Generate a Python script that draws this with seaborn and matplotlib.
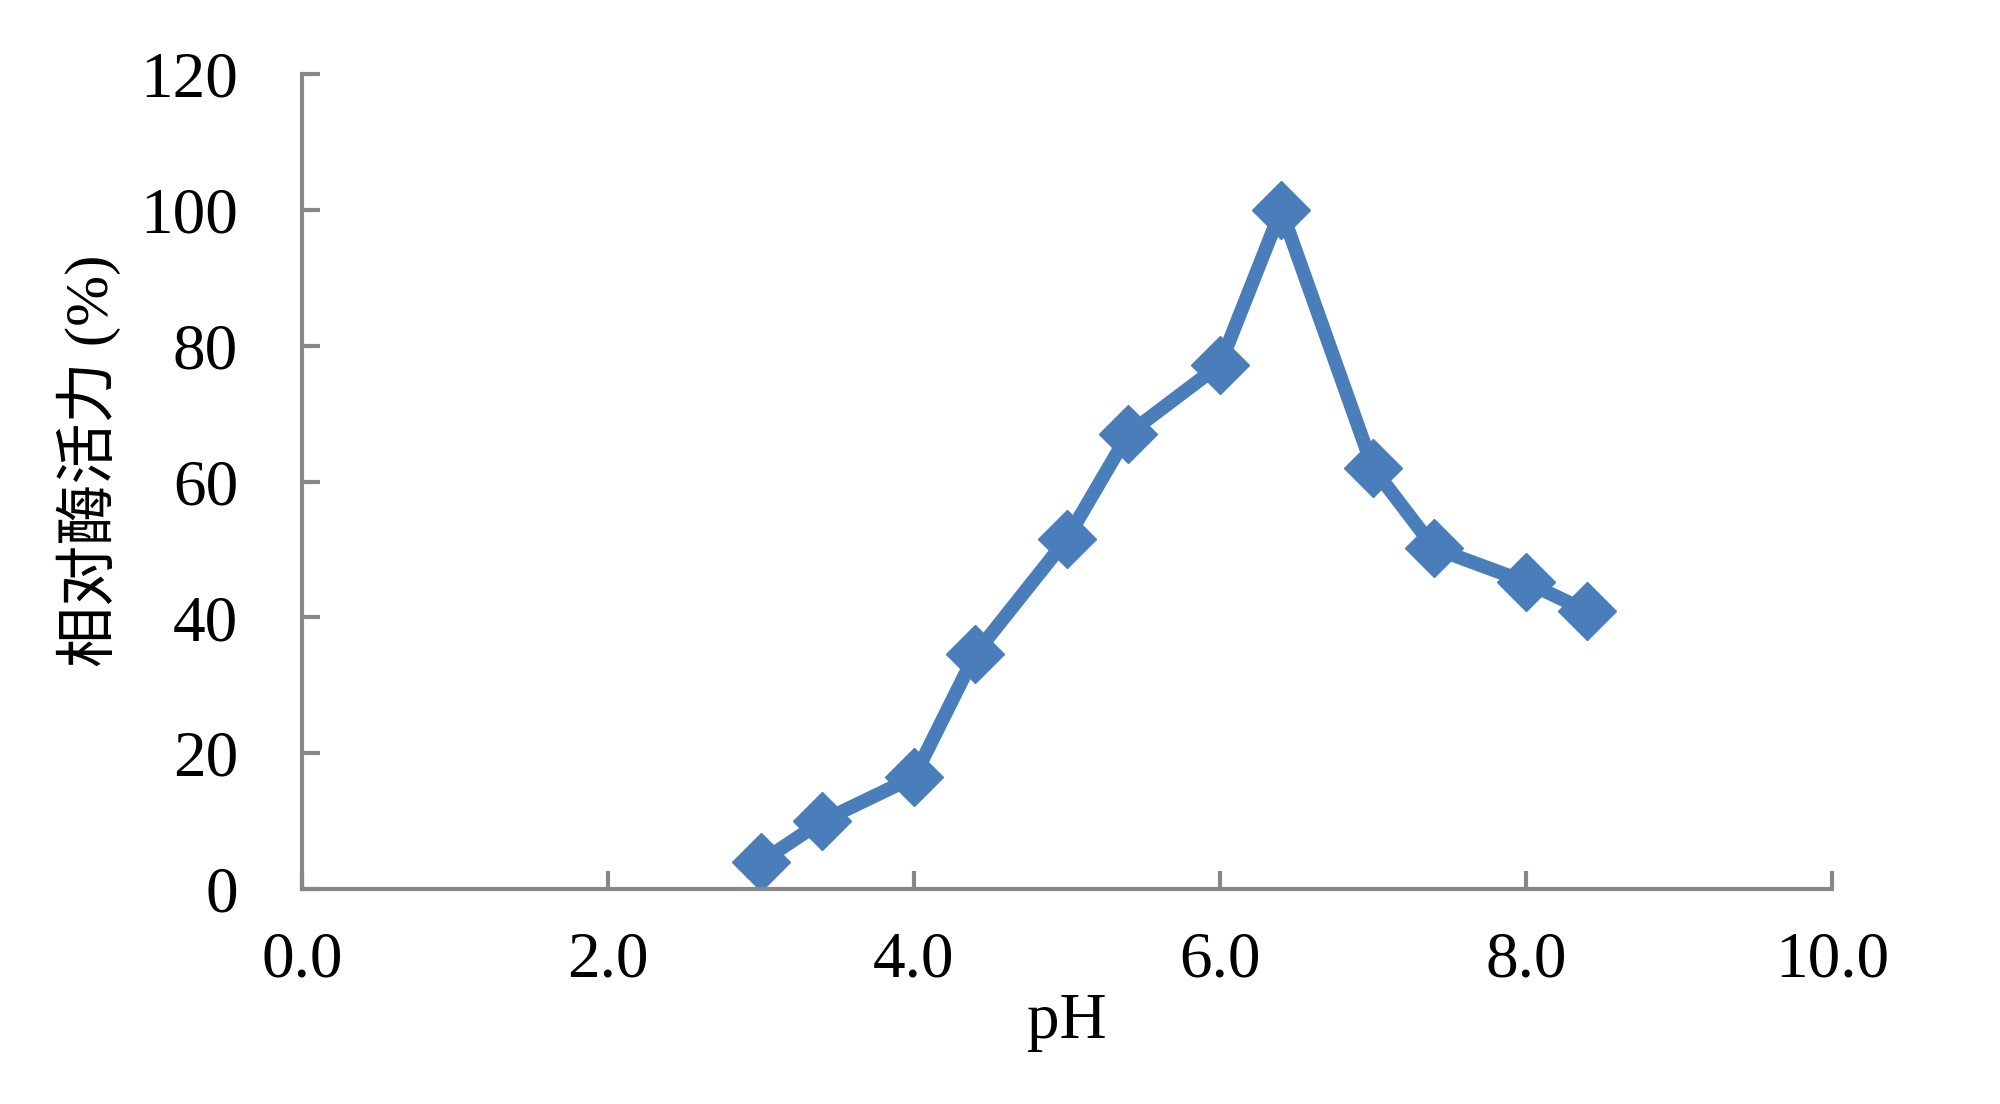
import pandas as pd
import seaborn as sns
import matplotlib.pyplot as plt

# 数据 (pH vs 相对酶活力)
ph = [3.0, 3.4, 4.0, 4.4, 5.0, 5.4, 6.0, 6.4, 7.0, 7.4, 8.0, 8.4]
activity = [4.0, 10.0, 16.5, 34.6, 51.6, 67.0, 77.2, 100.0, 62.0, 50.2, 45.2, 40.9]
x_ticks = [0, 2, 4, 6, 8, 10]
y_ticks = [0, 20, 40, 60, 80, 100, 120]

df = pd.DataFrame({"pH": ph, "activity": activity})

sns.set_style("white")
plt.rcParams['font.family'] = ['Liberation Serif', 'Noto Sans CJK SC']
plt.rcParams['text.color'] = 'black'
plt.rcParams['axes.labelcolor'] = 'black'
plt.rcParams['xtick.color'] = 'black'
plt.rcParams['ytick.color'] = 'black'

fig = plt.figure(figsize=(20, 11.04), dpi=100)
ax = fig.add_axes([0.151, 0.1947, 0.765, 0.7383])

sns.lineplot(data=df, x="pH", y="activity", ax=ax, color="#4a7ebb",
             linewidth=10, marker="D", markersize=30,
             markeredgecolor="#4a7ebb", markeredgewidth=1)

ax.set_xlim(0, 10)
ax.set_ylim(0, 120)
ax.set_xticks(x_ticks)
ax.set_xticklabels([f"{t:.1f}" for t in x_ticks])
ax.set_yticks(y_ticks)

axis_color = "#878787"
for side in ["top", "right"]:
    ax.spines[side].set_visible(False)
for side in ["left", "bottom"]:
    ax.spines[side].set_color(axis_color)
    ax.spines[side].set_linewidth(3)

ax.tick_params(axis="x", direction="in", length=13, width=3, color=axis_color,
               labelcolor="black", labelsize=47, pad=30, bottom=True)
ax.tick_params(axis="y", direction="in", length=13, width=3, color=axis_color,
               labelcolor="black", labelsize=47, pad=46, left=True)

ax.set_xlabel("pH", fontsize=47, labelpad=2)
ax.set_ylabel("相对酶活力 (%)", fontsize=44, fontweight="light")
ax.yaxis.set_label_coords(-0.118, 0.525)

fig.savefig("out.png", dpi=100)
